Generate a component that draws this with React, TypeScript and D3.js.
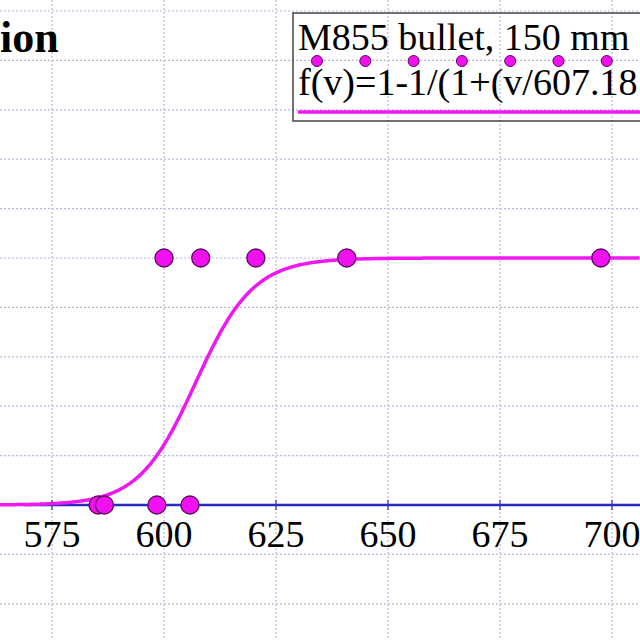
import * as d3 from 'd3';
import React from 'react';

// measured impact velocities (m/s) and outcome (1 = perforation, 0 = none)
const velocities = [585.3, 586.7, 598.4, 600, 605.8, 608.2, 620.5, 640.8, 697.5];
const outcomes = [0, 0, 0, 1, 0, 1, 1, 1, 1];

const xTicks = [575, 600, 625, 650, 675, 700];
const yGrid = [-0.4, -0.2, 0.2, 0.4, 0.6, 0.8, 1.0, 1.2, 1.4, 1.6, 1.8, 2.0];

// fitted curve f(v)=1-1/(1+(v/v50)^n)
const v50 = 607.18;
const slope = 95;

const seriesLabel = 'M855 bullet, 150 mm';
const fitLabel = 'f(v)=1-1/(1+(v/607.18';

const W = 640;
const H = 640;
const MAGENTA = '#f018f0';
const serif = '"Liberation Serif", "Times New Roman", serif';

const App = () => {
  const x = d3.scaleLinear().domain([575, 700]).range([52, 612]);
  const y = d3.scaleLinear().domain([0, 1]).range([505, 258]);

  const fit = (v: number) => 1 - 1 / (1 + Math.pow(v / v50, slope));
  const vs = d3.range(x.invert(0), x.invert(W), 0.25);
  const line = d3.line<number>().x(v => x(v)).y(v => y(fit(v)));

  const gridX = d3.range(550, 751, 25).filter(v => x(v) >= 0 && x(v) <= W);

  return (
    <svg width={W} height={H} style={{ position: 'absolute', left: 0, top: 0 }}>
      <rect width={W} height={H} fill="#fff" />
      <g stroke="#b7b7de" strokeWidth={1.2} strokeDasharray="2,2">
        {gridX.map(v => (
          <line key={'gx' + v} x1={x(v)} x2={x(v)} y1={0} y2={H} />
        ))}
        {yGrid.map(d => (
          <line key={'gy' + d} x1={0} x2={W} y1={y(d)} y2={y(d)} />
        ))}
      </g>

      {/* x axis */}
      <line x1={24} x2={W} y1={y(0)} y2={y(0)} stroke="#2a2ac0" strokeWidth={2.6} />
      <g stroke="#2a2ac0" strokeWidth={1.2}>
        {xTicks.map(t => (
          <line key={'t' + t} x1={x(t)} x2={x(t)} y1={y(0) - 5} y2={y(0) + 5} />
        ))}
      </g>
      <g fontFamily={serif} fontSize={38} textAnchor="middle" fill="#000">
        {xTicks.map(t => (
          <text key={'l' + t} x={x(t)} y={547}>{t}</text>
        ))}
      </g>

      {/* fit curve */}
      <path d={line(vs) || ''} fill="none" stroke={MAGENTA} strokeWidth={3.5} />

      {/* data points */}
      {velocities.map((v, i) => (
        <circle key={'p' + i} cx={x(v)} cy={y(outcomes[i])} r={9}
          fill="#f010f0" stroke="#5a0a5a" strokeWidth={1.3} />
      ))}

      {/* title fragment */}
      <text x={0} y={52} fontFamily={serif} fontWeight="bold" fontSize={44}>ion</text>

      {/* legend */}
      <rect x={293} y={13} width={400} height={108} fill="none" stroke="#444" strokeWidth={1.5} />
      <text x={298} y={50} fontFamily={serif} fontSize={38}>{seriesLabel}</text>
      {d3.range(7).map(i => (
        <circle key={'ld' + i} cx={317 + i * 48.3} cy={61} r={5.5}
          fill="#f010f0" stroke="#5a0a5a" strokeWidth={1} />
      ))}
      <text x={298} y={95} fontFamily={serif} fontSize={38}>{fitLabel}</text>
      <line x1={298} x2={W} y1={112} y2={112} stroke={MAGENTA} strokeWidth={3.5} />
    </svg>
  );
};

export default App;
